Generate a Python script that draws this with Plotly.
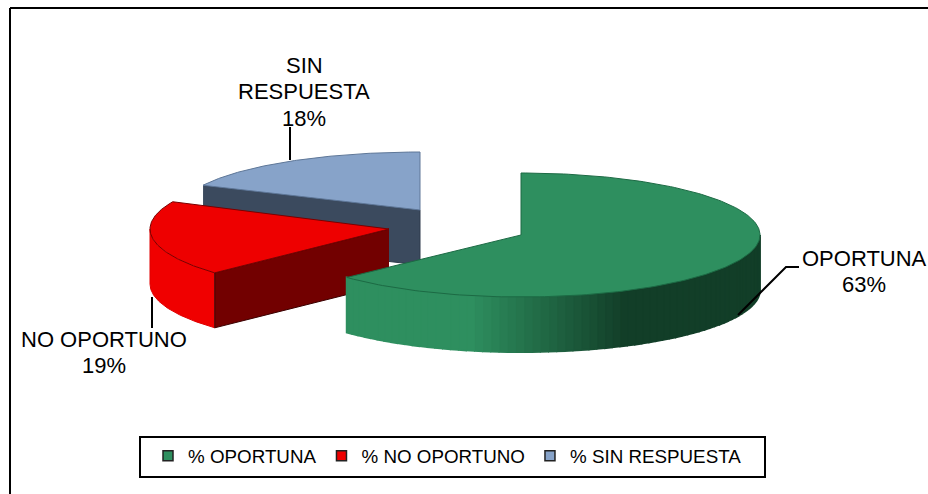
import numpy as np
import plotly.graph_objects as go

# --- data ---
categories = ["OPORTUNA", "NO OPORTUNO", "SIN RESPUESTA"]
values = [63, 19, 18]
legend_names = ["% OPORTUNA", "% NO OPORTUNO", "% SIN RESPUESTA"]
label_texts = [["OPORTUNA"], ["NO OPORTUNO"], ["SIN", "RESPUESTA"]]

# --- styling / projection of the exploded 3-D pie (pixel space) ---
top_colors = ["#2E8F5F", "#EE0000", "#87A3C9"]
cut_colors = ["#1B5A3A", "#720000", "#3B4A5E"]
edge_colors = ["#14482E", "#7A0000", "#2F3B4C"]
apex_x = [521, 389, 420]
apex_y = [235, 229, 210]
rad_x = [239, 239, 217 / 0.905]
rad_y = [62, 64, 58]
depth = 55
FONT = "Liberation Sans"

fig = go.Figure()
total = sum(values)
cum = np.cumsum([0] + values) / total * 2 * np.pi


def poly(xs, ys, fill, line=None, lw=1):
    fig.add_trace(go.Scatter(x=list(xs), y=list(ys), mode="lines", fill="toself",
                             fillcolor=fill, line=dict(color=line or fill, width=lw),
                             hoverinfo="skip", showlegend=False))


def rim(i, a0, a1, n=120):
    t = np.linspace(a0, a1, n)
    return apex_x[i] + rad_x[i] * np.sin(t), apex_y[i] - rad_y[i] * np.cos(t)


def mix(c0, c1, f):
    a = [int(c0[k:k + 2], 16) for k in (1, 3, 5)]
    b = [int(c1[k:k + 2], 16) for k in (1, 3, 5)]
    return "rgb(%d,%d,%d)" % tuple(round(p + (q - p) * f) for p, q in zip(a, b))


# blue slice: back wall cut then top
i = 2
ex, ey = rim(i, cum[2], cum[2], 1)
poly([ex[0], apex_x[i], apex_x[i], ex[0]],
     [ey[0], apex_y[i], apex_y[i] + depth, ey[0] + depth], cut_colors[i], edge_colors[i])
rx, ry = rim(i, cum[2], cum[3])
poly([apex_x[i], *rx, apex_x[i]], [apex_y[i], *ry, apex_y[i]], top_colors[i], "#5E7798")

# red slice: outer wall, cut wall, top
i = 1
rx, ry = rim(i, cum[1], cum[2])
vis = (np.pi * 1.5 >= np.linspace(cum[1], cum[2], len(rx)))
wx, wy = rx[vis], ry[vis]
poly([*wx, *wx[::-1]], [*wy, *(wy[::-1] + depth)], "#F00000", "#E00000")
cx, cy = wx[0], wy[0]
poly([apex_x[i], cx, cx, apex_x[i]], [apex_y[i], cy, cy + depth, apex_y[i] + depth],
     cut_colors[i], "#3A0000")
poly([apex_x[i], *rx, apex_x[i]], [apex_y[i], *ry, apex_y[i]], top_colors[i], edge_colors[i])

# green slice: graded outer wall strips, then top
i = 0
a_start = np.pi / 2
a_edges = np.linspace(a_start, cum[1], 70)
for a0, a1 in zip(a_edges[:-1], a_edges[1:]):
    sx, sy = rim(i, a0, a1, 4)
    mid = sx.mean()
    f = np.clip((mid - 470) / (625 - 470), 0, 1)
    col = mix("#2E8F5F", "#123E28", f)
    poly([*sx, *sx[::-1]], [*sy, *(sy[::-1] + depth)], col, lw=2)
rx, ry = rim(i, cum[0], cum[1], 200)
poly([apex_x[i], *rx, apex_x[i]], [apex_y[i], *ry, apex_y[i]], top_colors[i], "#1C6A44")

# leader lines
leaders = [([738, 786, 799], [315, 267, 267]),
           ([152, 152], [297, 328]),
           ([290, 290], [127, 160])]
for lx, ly in leaders:
    fig.add_trace(go.Scatter(x=lx, y=ly, mode="lines", line=dict(color="black", width=2),
                             hoverinfo="skip", showlegend=False))

# legend entries
for name, col in zip(legend_names, top_colors):
    fig.add_trace(go.Scatter(x=[None], y=[None], mode="markers", name=name,
                             marker=dict(symbol="square", size=10, color=col,
                                         line=dict(color="#222222", width=1.5))))

# data labels (one annotation per line so the leading can match)
label_first_y = [258, 339, 65]
label_x = [864, 104, 304]
LEADING = 26.5
for txt, v, x, y0 in zip(label_texts, values, label_x, label_first_y):
    for k, line in enumerate(txt + [f"{v}%"]):
        fig.add_annotation(x=x, y=y0 + k * LEADING, text=line, showarrow=False,
                           font=dict(family=FONT, size=22, color="black"), align="center")

PX = 1 / 928
PY = 1 / 494
fig.update_layout(
    width=928, height=494, margin=dict(l=0, r=0, t=0, b=0),
    paper_bgcolor="white", plot_bgcolor="white",
    xaxis=dict(range=[0, 928], visible=False, fixedrange=True),
    yaxis=dict(range=[494, 0], visible=False, fixedrange=True),
    font=dict(family=FONT, color="black"),
    legend=dict(orientation="h", x=148 * PX, y=1 - 437 * PY, xanchor="left", yanchor="top",
                bgcolor="rgba(0,0,0,0)", borderwidth=0,
                font=dict(family=FONT, size=18.8), itemsizing="trace"),
    shapes=[dict(type="line", xref="paper", yref="paper", x0=10 * PX, x1=1, y0=1 - 8 * PY, y1=1 - 8 * PY,
                 line=dict(color="black", width=2)),
            dict(type="line", xref="paper", yref="paper", x0=10 * PX, x1=10 * PX, y0=0, y1=1 - 8 * PY,
                 line=dict(color="black", width=2)),
            dict(type="rect", xref="paper", yref="paper", x0=140 * PX, x1=765 * PX,
                 y0=1 - 477 * PY, y1=1 - 437 * PY, line=dict(color="black", width=2))],
)
fig.write_html("out.html", config=dict(displayModeBar=False),
               post_script="document.body.style.margin='0';document.body.style.overflow='hidden';")
